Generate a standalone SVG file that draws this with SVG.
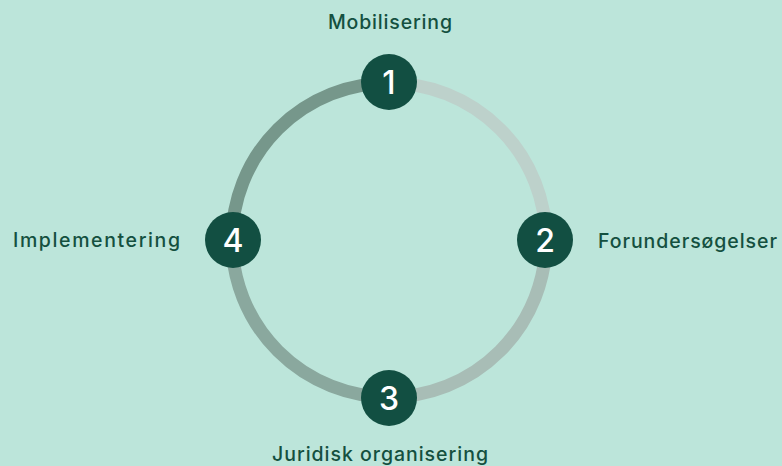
<svg xmlns="http://www.w3.org/2000/svg" width="782" height="466" viewBox="0 0 782 466">
<style>
.lbl{font-family:"Inter","Open Sans","Liberation Sans",sans-serif;font-size:19.5px;font-weight:500;fill:#14503f}
.num{font-family:"Inter","Open Sans","Liberation Sans",sans-serif;font-size:32px;font-weight:500;fill:#ffffff;text-anchor:middle}
.node{fill:#124f42}
.arc{fill:none;stroke-width:13}
</style>
<rect width="782" height="466" fill="#bce5da"/>
<g id="connectors">
<path class="arc" d="M389 83 A157 157 0 0 1 546 240" stroke="#bdd1cb"/>
<path class="arc" d="M546 240 A157 157 0 0 1 389 397" stroke="#a8bdb6"/>
<path class="arc" d="M389 397 A157 157 0 0 1 232 240" stroke="#8aa89e"/>
<path class="arc" d="M232 240 A157 157 0 0 1 389 83" stroke="#76978b"/>
</g>
<g id="node1"><circle class="node" cx="389" cy="82" r="28"/><text class="num" x="389" y="93.5">1</text><text class="lbl" x="328" y="29" textLength="124" lengthAdjust="spacing">Mobilisering</text></g>
<g id="node2"><circle class="node" cx="545" cy="240" r="28"/><text class="num" x="545" y="251.5">2</text><text class="lbl" x="598" y="248" textLength="179" lengthAdjust="spacing">Forundersøgelser</text></g>
<g id="node3"><circle class="node" cx="389" cy="398" r="28"/><text class="num" x="389" y="409.5">3</text><text class="lbl" x="272" y="461" textLength="216" lengthAdjust="spacing">Juridisk organisering</text></g>
<g id="node4"><circle class="node" cx="233" cy="240" r="28"/><text class="num" x="233" y="251.5">4</text><text class="lbl" x="13" y="247" textLength="167" lengthAdjust="spacing">Implementering</text></g>
</svg>
